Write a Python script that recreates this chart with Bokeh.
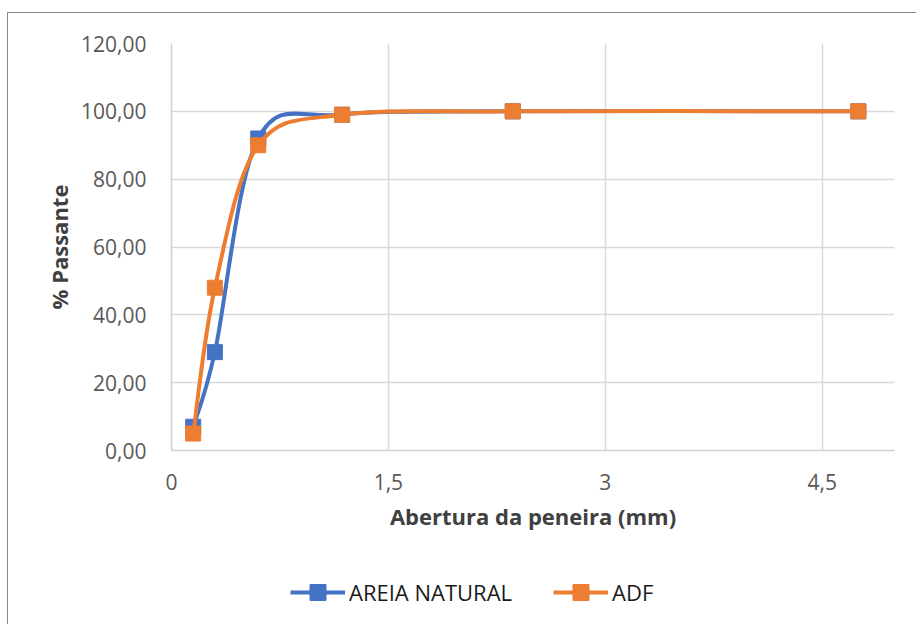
from bokeh.plotting import figure
from bokeh.layouts import column
from bokeh.models import (ColumnDataSource, FixedTicker, Legend, LegendItem,
                          Range1d)
from bokeh.embed import file_html
from bokeh.resources import INLINE

# Sieve openings (mm) and cumulative % passing for each sand
abertura = [0.15, 0.3, 0.6, 1.18, 2.36, 4.75]
areia_natural = [7, 29, 92, 99, 100, 100]
adf = [5, 48, 90, 99, 100, 100]

x_ticks = [0, 1.5, 3, 4.5]
x_tick_labels = ["0", "1,5", "3", "4,5"]
y_ticks = [0, 20, 40, 60, 80, 100, 120]
y_tick_labels = ["0,00", "20,00", "40,00", "60,00", "80,00", "100,00", "120,00"]

BLUE = "#4472C4"
ORANGE = "#ED7D31"
FONT = "Open Sans"


def smooth_segments(xs, ys):
    """Cubic Bezier segments (Catmull-Rom style) through the points."""
    n = len(xs)
    seg = dict(x0=[], y0=[], x1=[], y1=[], cx0=[], cy0=[], cx1=[], cy1=[])
    for i in range(n - 1):
        xp, yp = (xs[i - 1], ys[i - 1]) if i > 0 else (xs[i], ys[i])
        xn, yn = (xs[i + 2], ys[i + 2]) if i + 2 < n else (xs[i + 1], ys[i + 1])
        seg["x0"].append(xs[i])
        seg["y0"].append(ys[i])
        seg["x1"].append(xs[i + 1])
        seg["y1"].append(ys[i + 1])
        seg["cx0"].append(xs[i] + (xs[i + 1] - xp) / 6)
        seg["cy0"].append(ys[i] + (ys[i + 1] - yp) / 6)
        seg["cx1"].append(xs[i + 1] - (xn - xs[i]) / 6)
        seg["cy1"].append(ys[i + 1] - (yn - ys[i]) / 6)
    return ColumnDataSource(seg)


# main chart
p = figure(width=908, height=547, output_backend="svg", toolbar_location=None,
           x_range=Range1d(0, 5), y_range=Range1d(0, 120),
           min_border_left=163, min_border_right=22,
           min_border_top=30, min_border_bottom=110)
p.outline_line_color = None
p.background_fill_color = "white"
p.border_fill_color = "white"

p.xgrid.ticker = FixedTicker(ticks=x_ticks)
p.ygrid.ticker = FixedTicker(ticks=y_ticks)
for g in (p.xgrid, p.ygrid):
    g.grid_line_color = "#d9d9d9"
    g.grid_line_width = 1.5

p.xaxis.ticker = FixedTicker(ticks=x_ticks)
p.yaxis.ticker = FixedTicker(ticks=y_ticks)
p.xaxis.major_label_overrides = dict(zip(x_ticks, x_tick_labels))
p.yaxis.major_label_overrides = dict(zip(y_ticks, y_tick_labels))
for ax in (p.xaxis, p.yaxis):
    ax.axis_line_color = "#d0d0d0"
    ax.axis_line_width = 1.5
    ax.major_tick_line_color = None
    ax.minor_tick_line_color = None
    ax.major_label_text_font = FONT
    ax.major_label_text_font_size = "21px"
    ax.major_label_text_color = "#595959"
    ax.axis_label_text_font = FONT
    ax.axis_label_text_font_size = "22px"
    ax.axis_label_text_font_style = "bold"
    ax.axis_label_text_color = "#404040"
p.xaxis.axis_label = "Abertura da peneira (mm)"
p.yaxis.axis_label = "% Passante"
p.yaxis.major_label_standoff = 19
p.xaxis.major_label_standoff = 17
p.yaxis.axis_label_standoff = 4
p.xaxis.axis_label_standoff = 8

# legend strip under the chart
leg = figure(width=908, height=64, output_backend="svg", toolbar_location=None,
             x_range=Range1d(0, 1), y_range=Range1d(0, 1),
             x_axis_location=None, y_axis_location=None,
             min_border=0)
leg.outline_line_color = None
leg.grid.visible = False

series = [("AREIA NATURAL", areia_natural, BLUE), ("ADF", adf, ORANGE)]
items = []
for name, vals, color in series:
    src = smooth_segments(abertura, vals)
    for fig in (p, leg):
        bez = fig.bezier("x0", "y0", "x1", "y1", "cx0", "cy0", "cx1", "cy1",
                         source=src, line_color=color, line_width=4)
        sq = fig.scatter(abertura, vals, marker="square", size=15,
                         fill_color=color, line_color=color)
    items.append(LegendItem(label=name, renderers=[bez, sq]))

legend = Legend(items=items, orientation="horizontal", location=(119, 12),
                glyph_width=55, glyph_height=40, label_standoff=4, spacing=41,
                padding=0, margin=0, border_line_color=None,
                background_fill_alpha=0,
                label_text_font=FONT, label_text_font_size="22px",
                label_text_color="#1a1a1a")
leg.add_layout(legend)

layout = column(p, leg, spacing=0)
layout.styles = {"margin-left": "7px", "margin-top": "12px",
                 "border-left": "1px solid #8a8a8a",
                 "border-top": "1px solid #8a8a8a"}

open("out.html", "w").write(file_html(layout, INLINE))
